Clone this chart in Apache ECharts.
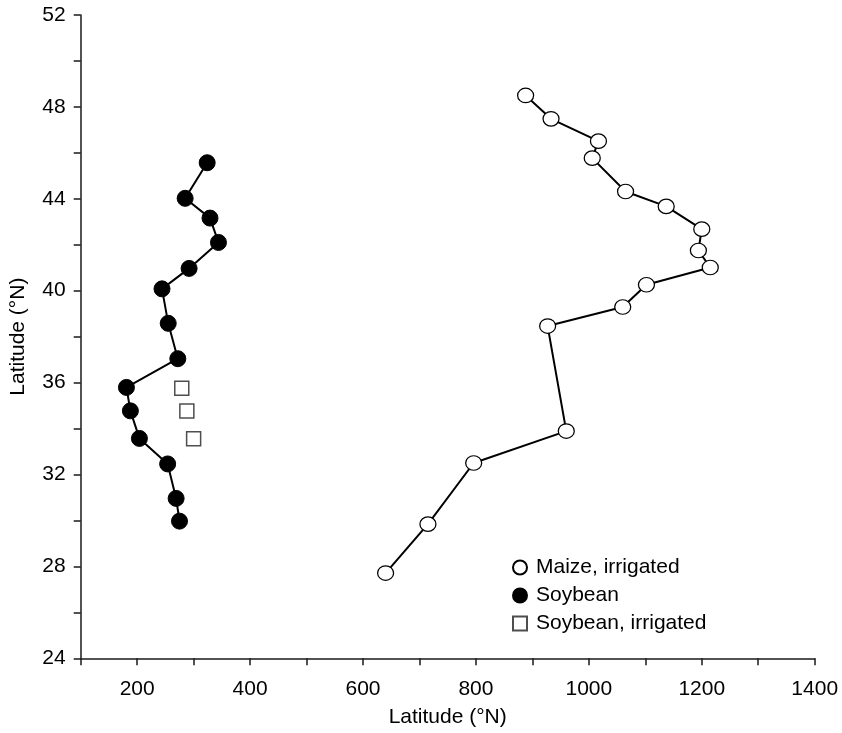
<!DOCTYPE html>
<html>
<head>
<meta charset="utf-8">
<script src="https://cdn.jsdelivr.net/npm/echarts@6/dist/echarts.min.js"></script>
<style>
html,body{margin:0;padding:0;background:#fff;}
#chart{width:842px;height:733px;}
</style>
</head>
<body>
<div id="chart"></div>
<script>
// Maize, irrigated
const maizeX = [888, 933, 1017, 1006, 1065, 1137, 1200, 1194, 1215, 1102, 1060, 927, 960, 796, 715, 640];
const maizeY = [48.5, 47.48, 46.51, 45.77, 44.32, 43.67, 42.68, 41.75, 41.01, 40.26, 39.29, 38.46, 33.89, 32.5, 29.84, 27.71];
// Soybean
const soyX = [324, 285, 329, 344, 292, 244, 255, 272, 181, 188, 204, 254, 269, 275];
const soyY = [45.57, 44.02, 43.16, 42.1, 40.97, 40.08, 38.58, 37.04, 35.79, 34.77, 33.57, 32.46, 30.96, 29.97];
// Soybean, irrigated
const soyIrrX = [279, 288, 300];
const soyIrrY = [35.75, 34.76, 33.56];

const xTicks = {min: 100, max: 1400, interval: 100, labelEvery: 200};
const yTicks = {min: 24, max: 52, interval: 2, labelEvery: 4};

const pairs = (xs, ys) => xs.map((x, i) => [x, ys[i]]);
const FONT = "'Liberation Sans', Arial, Helvetica, sans-serif";
const FS = 21;
const axisCol = '#1a1a1a';

const chart = echarts.init(document.getElementById('chart'), null, {renderer: 'canvas'});
chart.setOption({
  animation: false,
  backgroundColor: '#fff',
  grid: {left: 80.7, right: 27.3, top: 15, bottom: 74.7, containLabel: false, outerBoundsMode: 'none'},
  xAxis: {
    type: 'value', min: xTicks.min, max: xTicks.max, interval: xTicks.interval,
    name: 'Latitude (°N)', nameLocation: 'middle', nameGap: 48,
    nameTextStyle: {fontFamily: FONT, fontSize: FS, color: '#000'},
    axisLine: {show: true, onZero: false, lineStyle: {color: axisCol, width: 1.5}},
    axisTick: {show: true, length: 7, lineStyle: {color: axisCol, width: 1.5}},
    splitLine: {show: false},
    axisLabel: {
      margin: 20, fontFamily: FONT, fontSize: FS, color: '#000',
      formatter: v => (v % xTicks.labelEvery === 0 ? String(v) : '')
    }
  },
  yAxis: {
    type: 'value', min: yTicks.min, max: yTicks.max, interval: yTicks.interval,
    name: 'Latitude (°N)', nameLocation: 'middle', nameGap: 52, nameRotate: 90,
    nameTextStyle: {fontFamily: FONT, fontSize: FS, color: '#000'},
    axisLine: {show: true, onZero: false, lineStyle: {color: axisCol, width: 1.5}},
    axisTick: {show: true, length: 7, lineStyle: {color: axisCol, width: 1.5}},
    splitLine: {show: false},
    axisLabel: {
      margin: 15, fontFamily: FONT, fontSize: FS, color: '#000',
      formatter: v => (v % yTicks.labelEvery === 0 ? String(v) : '')
    }
  },
  legend: {
    orient: 'vertical', left: 507, top: 552,
    itemWidth: 14, itemHeight: 14, itemGap: 7,
    textStyle: {fontFamily: FONT, fontSize: FS, color: '#000', padding: [0, 0, 0, 4]},
    data: [
      {name: 'Maize, irrigated', icon: 'circle'},
      {name: 'Soybean', icon: 'circle'},
      {name: 'Soybean, irrigated', icon: 'rect'}
    ]
  },
  series: [
    {
      name: 'Maize, irrigated', type: 'line', data: pairs(maizeX, maizeY),
      symbol: 'circle', symbolSize: [16, 14.5], showAllSymbol: true,
      lineStyle: {color: '#000', width: 2},
      itemStyle: {color: '#fff', borderColor: '#000', borderWidth: 1.2}
    },
    {
      name: 'Soybean', type: 'line', data: pairs(soyX, soyY),
      symbol: 'circle', symbolSize: 16, showAllSymbol: true,
      lineStyle: {color: '#000', width: 2},
      itemStyle: {color: '#000', borderColor: '#000', borderWidth: 1}
    },
    {
      name: 'Soybean, irrigated', type: 'scatter', data: pairs(soyIrrX, soyIrrY),
      symbol: 'rect', symbolSize: 14,
      itemStyle: {color: '#fff', borderColor: '#222', borderWidth: 1.5}
    }
  ]
});
</script>
</body>
</html>
